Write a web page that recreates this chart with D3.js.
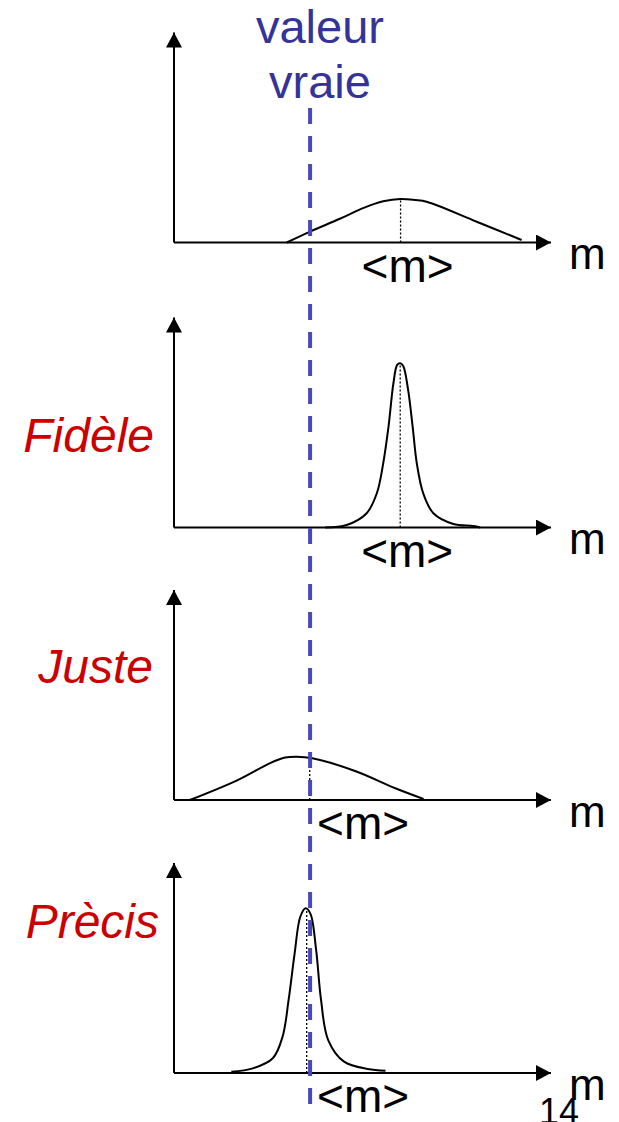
<!DOCTYPE html>
<html>
<head>
<meta charset="utf-8">
<script src="https://cdn.jsdelivr.net/npm/d3@7"></script>
<style>
  html, body { margin: 0; padding: 0; background: #fff; }
  svg { display: block; font-family: "Liberation Sans", Arial, sans-serif; }
</style>
</head>
<body>
<div id="chart"></div>
<script>
// values (m in arbitrary units 0-100, density 0-100)
var titleLines = ["valeur", "vraie"];
var panelNames = ["", "Fidèle", "Juste", "Prècis"];
var trueValue = 36.1;
var means = [60.1, 60, 36, 35.2];
var axisLabel = "m";
var meanLabel = "<m>";
var pageNumber = "14";

var curveLarge1 = [[29.9, 0], [36.1, 5.2], [44, 11.3], [50.5, 16.6], [55.5, 19.6], [60.1, 20.7],
  [64, 20.2], [67, 19.4], [80.3, 9.9], [92.2, 1.2]];
var curveNarrow2 = [[40.1, 0], [45.8, 1.2], [51.1, 6.8], [53.8, 16.3], [55.5, 30.6],
  [56.9, 48], [58.2, 68.7], [59.2, 77.4], [60, 78.2], [60.8, 76.9], [62.1, 65.5],
  [63.3, 48], [64.4, 30.6], [66.1, 16.3], [68.8, 6.8], [74.1, 1.7], [79.4, 0.7], [81.2, 0]];
var curveLarge3 = [[4.2, 0], [16.9, 9.5], [25.5, 17.6], [29.5, 20.2], [32.5, 20.6], [36.7, 19.9],
  [48.2, 13.7], [58.7, 5.6], [66.2, 0.5]];
var curveNarrow4 = [[15.2, 0.6], [20.9, 2.2], [26.2, 7], [28.8, 17.3], [30.4, 34.8],
  [32, 57], [33.5, 74.4], [34.9, 78.4], [36.2, 75.8], [37.7, 58.6], [39, 34.8],
  [40.9, 15.7], [45.1, 5.4], [51.4, 1.9], [56.1, 1.1]];
var curves = [curveLarge1, curveNarrow2, curveLarge3, curveNarrow4];

// layout
var width = 619, height = 1122;
var panelBase = [242.5, 527.5, 800, 1073];
var panelHeight = 210;
var nameBaseline = [0, -75.5, -117, -135];
var nameRight = [0, 154, 153, 159];
var red = "#cc0000", blueText = "#333399", blueLine = "#4848bb";

var svg = d3.select("#chart")
  .append("svg")
  .attr("width", width)
  .attr("height", height);

svg.append("defs")
  .append("marker")
  .attr("id", "arrow")
  .attr("markerUnits", "userSpaceOnUse")
  .attr("markerWidth", 16)
  .attr("markerHeight", 16)
  .attr("viewBox", "0 -8 15 16")
  .attr("refX", 15)
  .attr("refY", 0)
  .attr("orient", "auto")
  .append("path")
  .attr("d", "M0,-8L15,0L0,8Z")
  .attr("fill", "#000");

var x = d3.scaleLinear().domain([0, 100]).range([174, 551]);

panelBase.forEach(function (y0, i) {
  var y = d3.scaleLinear().domain([0, 100]).range([y0, y0 - panelHeight]);
  var g = svg.append("g").attr("class", "panel");

  // axes
  g.append("line")
    .attr("x1", x(0)).attr("x2", x(0))
    .attr("y1", y(0)).attr("y2", y(100))
    .attr("stroke", "#000").attr("stroke-width", 2)
    .attr("marker-end", "url(#arrow)");
  g.append("line")
    .attr("x1", x(0)).attr("x2", x(100))
    .attr("y1", y(0)).attr("y2", y(0))
    .attr("stroke", "#000").attr("stroke-width", 2)
    .attr("marker-end", "url(#arrow)");

  // distribution
  g.append("path")
    .datum(curves[i])
    .attr("d", d3.line()
      .x(function (d) { return x(d[0]); })
      .y(function (d) { return y(d[1]); })
      .curve(d3.curveCatmullRom.alpha(0.5)))
    .attr("fill", "none")
    .attr("stroke", "#000")
    .attr("stroke-width", 2);

  // mean marker (dotted) up to the curve
  var peak = d3.max(curves[i], function (d) { return d[1]; });
  var top = d3.max(curves[i], function (d) {
    return Math.abs(d[0] - means[i]) < 2.5 ? d[1] : 0;
  });
  g.append("line")
    .attr("x1", x(means[i])).attr("x2", x(means[i]))
    .attr("y1", y(0)).attr("y2", y(Math.min(top, peak)))
    .attr("stroke", "#000").attr("stroke-width", 1.3)
    .attr("stroke-dasharray", "2,2");

  // <m> label, moved right of the true value line if needed
  var lx = Math.max(x(means[i]) - 39, x(trueValue) + 7);
  g.append("text")
    .attr("x", lx).attr("y", y0 + 39)
    .attr("font-size", 46)
    .attr("fill", "#000")
    .text(meanLabel);

  if (i === 3) {
    svg.append("text")
      .attr("x", 539).attr("y", 1124)
      .attr("font-size", 36)
      .attr("fill", "#000")
      .text(pageNumber);
  }

  g.append("text")
    .attr("x", 569).attr("y", y0 + 26.5)
    .attr("font-size", 44)
    .attr("fill", "#000")
    .text(axisLabel);

  if (panelNames[i]) {
    g.append("text")
      .attr("x", nameRight[i]).attr("y", y0 + nameBaseline[i])
      .attr("text-anchor", "end")
      .attr("font-size", 48)
      .attr("font-style", "italic")
      .attr("fill", red)
      .text(panelNames[i]);
  }
});

// true value line and its title
svg.append("line")
  .attr("x1", x(trueValue)).attr("x2", x(trueValue))
  .attr("y1", 108).attr("y2", 1104)
  .attr("stroke", blueLine)
  .attr("stroke-width", 4)
  .attr("stroke-dasharray", "16,12");

svg.selectAll("text.title")
  .data(titleLines)
  .enter()
  .append("text")
  .attr("class", "title")
  .attr("x", 320)
  .attr("y", function (d, i) { return 43 + i * 55; })
  .attr("text-anchor", "middle")
  .attr("font-size", 47)
  .attr("fill", blueText)
  .text(function (d) { return d; });
</script>
</body>
</html>
